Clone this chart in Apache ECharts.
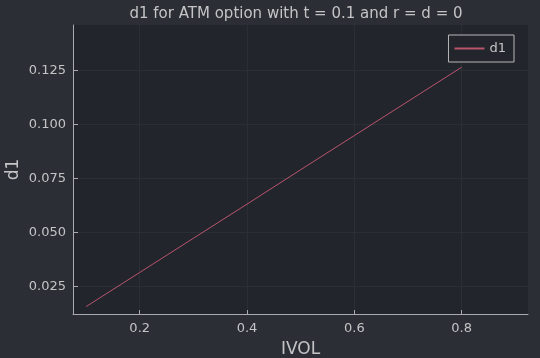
<!DOCTYPE html>
<html>
<head>
<meta charset="utf-8">
<script src="https://cdn.jsdelivr.net/npm/echarts@6/dist/echarts.min.js"></script>
<style>html,body{margin:0;padding:0;background:#2b2e35;}#c{width:540px;height:358px;}</style>
</head>
<body>
<div id="c"></div>
<script>
var ivol = [0.1, 0.2, 0.3, 0.4, 0.5, 0.6, 0.7, 0.8];
var d1 = [0.0158, 0.0316, 0.0474, 0.0632, 0.0791, 0.0949, 0.1107, 0.1265];
var xTicks = [0.2, 0.4, 0.6, 0.8];
var yTicks = [0.025, 0.050, 0.075, 0.100, 0.125];
var yTickLabels = ['0.025', '0.050', '0.075', '0.100', '0.125'];

var font = 'DejaVu Sans';
var txt = '#c4c4c6';
var chart = echarts.init(document.getElementById('c'), null, {renderer: 'canvas'});
chart.setOption({
  backgroundColor: '#2b2e35',
  animation: false,
  title: {
    text: 'd1 for ATM option with t = 0.1 and r = d = 0',
    left: 291, top: 2, textAlign: 'center',
    textStyle: {color: txt, fontFamily: font, fontSize: 15, fontWeight: 'normal'}
  },
  legend: {
    right: 26, top: 35, orient: 'vertical',
    padding: [7, 8, 7, 6],
    backgroundColor: '#22252b', borderColor: '#b8b8ba', borderWidth: 1,
    itemWidth: 30, itemHeight: 2, itemGap: 5,
    icon: 'rect',
    textStyle: {color: txt, fontFamily: font, fontSize: 13},
    data: [{name: 'd1', icon: 'rect'}]
  },
  grid: {left: 73, right: 12, top: 25, bottom: 44, show: true, backgroundColor: '#22252b', borderWidth: 0,
    containLabel: false, outerBoundsMode: 'none'},
  xAxis: {
    type: 'value', min: 0.0757, max: 0.9236,
    name: 'IVOL', nameLocation: 'middle', nameGap: 27, nameMoveOverlap: false,
    nameTextStyle: {color: txt, fontFamily: font, fontSize: 17},
    axisLine: {show: true, onZero: false, lineStyle: {color: '#a9aaad', width: 1}},
    axisTick: {show: true, inside: true, length: 4, customValues: xTicks, lineStyle: {color: '#a9aaad'}},
    axisLabel: {color: txt, fontFamily: font, fontSize: 13, margin: 8, customValues: xTicks,
      formatter: function (v) { return String(Math.round(v * 10) / 10); }},
    splitLine: {show: true, lineStyle: {color: '#2b2e35', width: 1}}
  },
  yAxis: {
    type: 'value', min: 0.0124, max: 0.146,
    name: 'd1', nameLocation: 'middle', nameGap: 51, nameRotate: 90, nameMoveOverlap: false,
    nameTextStyle: {color: txt, fontFamily: font, fontSize: 17},
    axisLine: {show: true, onZero: false, lineStyle: {color: '#a9aaad', width: 1}},
    axisTick: {show: true, inside: true, length: 5, customValues: yTicks, lineStyle: {color: '#a9aaad'}},
    axisLabel: {color: txt, fontFamily: font, fontSize: 13, margin: 7, customValues: yTicks,
      formatter: function (v) { var i = yTicks.findIndex(function (t) { return Math.abs(t - v) < 1e-9; }); return i >= 0 ? yTickLabels[i] : ''; }},
    splitLine: {show: true, lineStyle: {color: '#2b2e35', width: 1}}
  },
  series: [{
    name: 'd1', type: 'line', showSymbol: false, symbol: 'none',
    data: ivol.map(function (x, i) { return [x, d1[i]]; }),
    lineStyle: {color: '#b9546f', width: 1},
    itemStyle: {color: '#b9546f'}
  }]
});
</script>
</body>
</html>
